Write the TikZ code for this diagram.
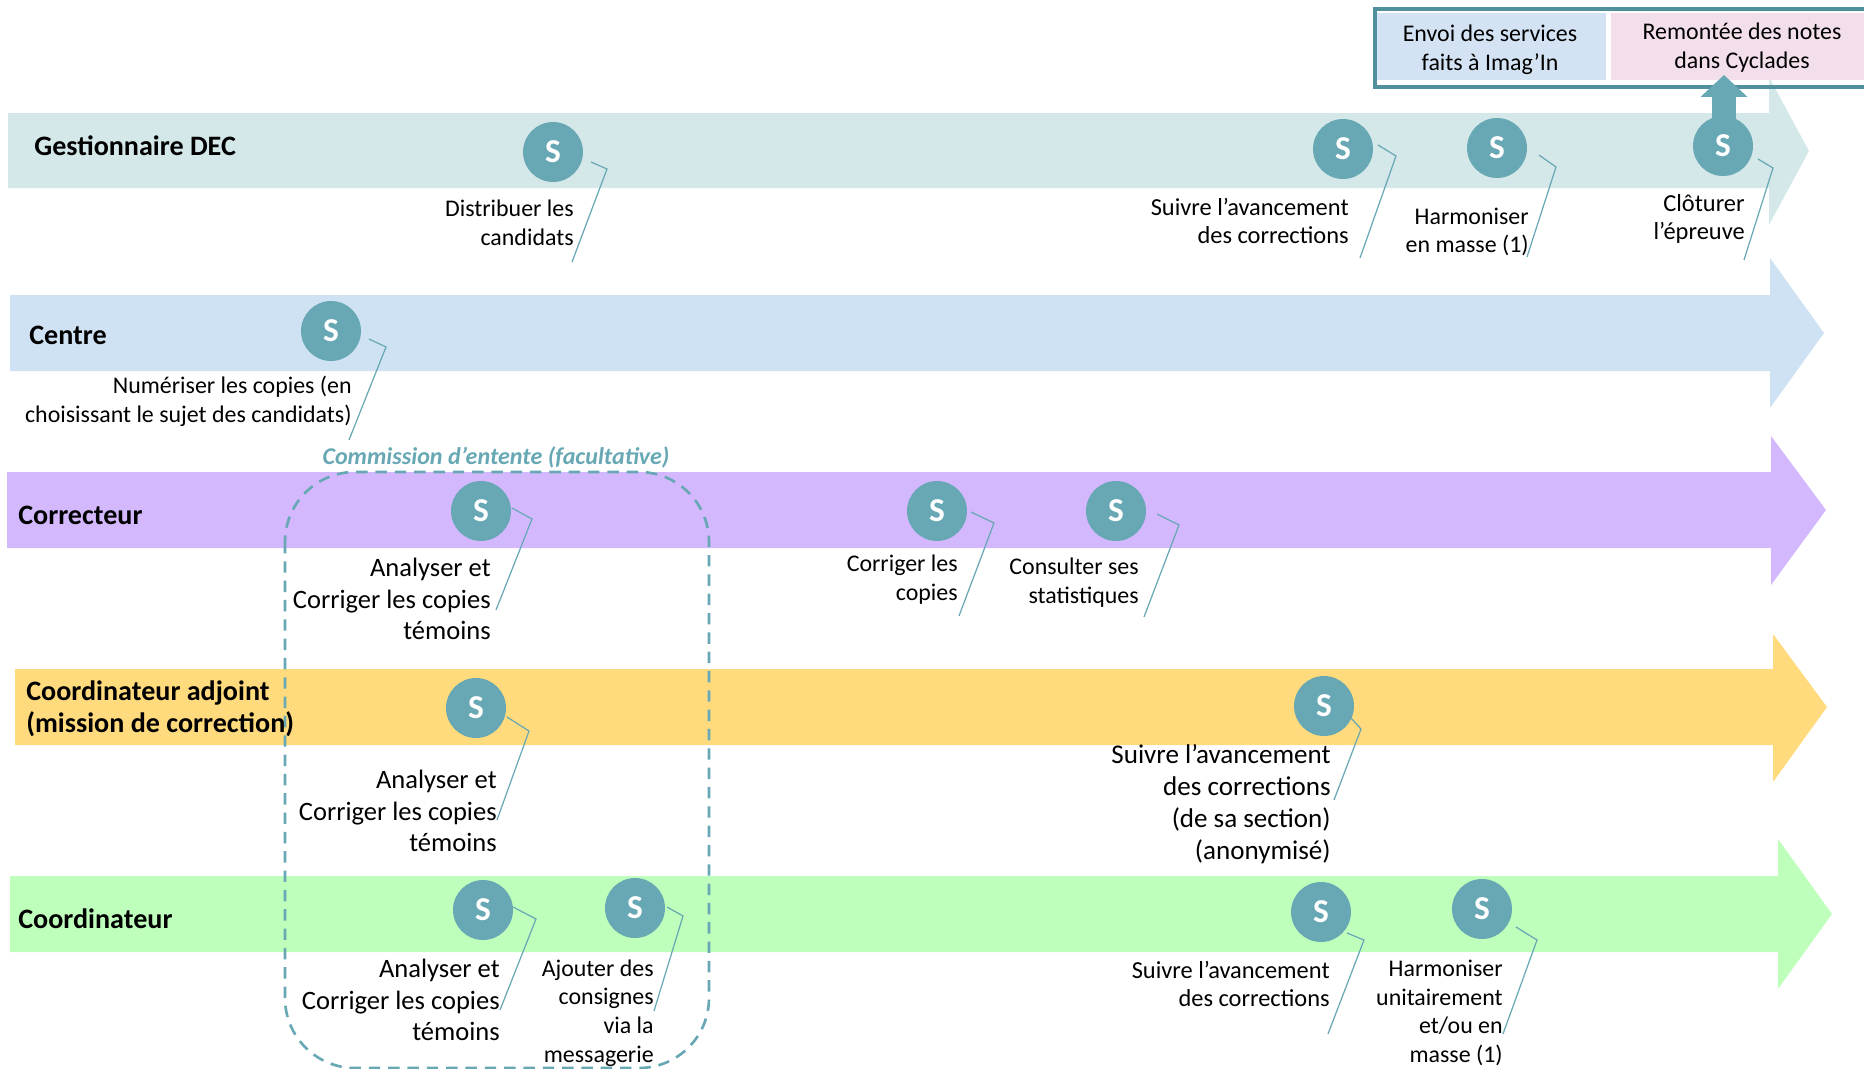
\documentclass[tikz,border=0pt]{standalone}
\usepackage{fontspec}
\setmainfont{Carlito}
\usetikzlibrary{arrows.meta}
\definecolor{gestcol}{HTML}{D5E8E9}
\definecolor{centrecol}{HTML}{CFE2F3}
\definecolor{corrcol}{HTML}{D3B8FE}
\definecolor{adjcol}{HTML}{FFDB7D}
\definecolor{coordcol}{HTML}{BFFFBC}
\definecolor{tealcol}{HTML}{67A8B4}
\definecolor{framecol}{HTML}{4F909C}
\definecolor{envoicol}{HTML}{D3E3F3}
\definecolor{remontecol}{HTML}{F3DFEC}
\begin{document}
\begin{tikzpicture}[x=0.02cm,y=-0.02cm,
  s node/.style={circle,fill=tealcol,minimum size=1.2cm,inner sep=0pt,text=white,font=\fontsize{19}{22}\selectfont\bfseries},
  role/.style={anchor=west,align=left,inner sep=0pt,font=\fontsize{16}{18.1}\selectfont\bfseries},
  small text/.style={anchor=east,align=right,inner sep=0pt,font=\fontsize{13.6}{16.4}\selectfont},
  mid text/.style={anchor=east,align=right,inner sep=0pt,font=\fontsize{13.9}{16.4}\selectfont},
  big text/.style={anchor=east,align=right,inner sep=0pt,font=\fontsize{15.1}{18.1}\selectfont},
  large text/.style={anchor=east,align=right,inner sep=0pt,font=\fontsize{15.4}{18.1}\selectfont},
  box text/.style={align=center,inner sep=0pt,font=\fontsize{13.6}{16.4}\selectfont},
  leader/.style={draw=tealcol,line width=0.7pt}]
  \useasboundingbox (0,0) rectangle (1864,1069);

  % bands
  \fill[gestcol] (8,113) -- (1769,113) -- (1769,77) -- (1809,151) -- (1769,225) -- (1769,188) -- (8,188) -- cycle;
  \fill[centrecol] (10,295) -- (1770,295) -- (1770,258) -- (1824,333) -- (1770,408) -- (1770,371) -- (10,371) -- cycle;
  \fill[corrcol] (7,472) -- (1771,472) -- (1771,436) -- (1826,510) -- (1771,585) -- (1771,548) -- (7,548) -- cycle;
  \fill[adjcol] (15,669) -- (1773,669) -- (1773,634) -- (1827,707) -- (1773,782) -- (1773,745) -- (15,745) -- cycle;
  \fill[coordcol] (10,876) -- (1778,876) -- (1778,839) -- (1832,914) -- (1778,989) -- (1778,952) -- (10,952) -- cycle;

  % top box
  \fill[envoicol] (1377,13) rectangle (1606,80);
  \fill[remontecol] (1611,13) rectangle (1864,80);
  \draw[framecol,line width=2.6pt] (1864,9) -- (1375,9) -- (1375,87) -- (1864,87);
  \node[box text] (envoi) at (1490,50) {Envoi des services\\faits à Imag’In};
  \node[box text] (remontee) at (1742,48) {Remontée des notes\\dans Cyclades};

  % commission
  \draw[tealcol,line width=1.5pt,dash pattern=on 6.5pt off 4.5pt,rounded corners=1.4cm] (285,472) rectangle (709,1068);
  \node[inner sep=0pt,text=tealcol,font=\fontsize{13.7}{16}\selectfont\bfseries\itshape] (commission) at (496,457) {Commission d’entente (facultative)};

  \node[role] (gest) at (34,146) {Gestionnaire DEC};
  \node[role] (centre) at (29,335) {Centre};
  \node[role] (correcteur) at (18,515) {Correcteur};
  \node[role] (adjoint) at (26,709) {Coordinateur adjoint\\(mission de correction)};
  \node[role] (coordinateur) at (18,919) {Coordinateur};

  \coordinate (upt) at (1724,75);
  \draw[tealcol,line width=13.6pt,-{Triangle[width=26pt,length=12.5pt]}] (1724,146) -- (upt);

  \node[s node] (g1) at (553,152) {S};
  \node[s node] (g2) at (1343,149) {S};
  \node[s node] (g3) at (1497,148) {S};
  \node[s node] (g4) at (1723,146) {S};
  \node[s node] (c1) at (331,331) {S};
  \node[s node] (r1) at (481,511) {S};
  \node[s node] (r2) at (937,511) {S};
  \node[s node] (r3) at (1116,511) {S};
  \node[s node] (a1) at (476,708) {S};
  \node[s node] (a2) at (1324,706) {S};
  \node[s node] (d1) at (483,910) {S};
  \node[s node] (d2) at (635,908) {S};
  \node[s node] (d3) at (1321,912) {S};
  \node[s node] (d4) at (1482,909) {S};

  \node[small text] (g1t) at (574,223) {Distribuer les\\candidats};
  \node[mid text] (g2t) at (1349,221) {Suivre l’avancement\\des corrections};
  \node[small text] (g3t) at (1529,232) {Harmoniser\\en masse (1)};
  \node[mid text] (g4t) at (1745,219) {Clôturer\\l’épreuve};
  \node[small text] (c1t) at (352,401) {Numériser les copies (en\\choisissant le sujet des candidats)};
  \node[big text] (r1t) at (491,599) {Analyser et\\Corriger les copies\\témoins};
  \node[small text] (r2t) at (958,580) {Corriger les\\copies};
  \node[small text] (r3t) at (1139,583) {Consulter ses\\statistiques};
  \node[big text] (a1t) at (497,811) {Analyser et\\Corriger les copies\\témoins};
  \node[large text] (a2t) at (1331,804) {Suivre l’avancement\\des corrections\\(de sa section)\\(anonymisé)};
  \node[big text] (d1t) at (500,1000) {Analyser et\\Corriger les copies\\témoins};
  \node[small text] (d2t) at (654,1013) {Ajouter des\\consignes\\via la\\messagerie};
  \node[mid text] (d3t) at (1330,984) {Suivre l’avancement\\des corrections};
  \node[small text] (d4t) at (1503,1013) {Harmoniser\\unitairement\\et/ou en\\masse (1)};

  % leaders
  \coordinate (g1a) at (591,162); \coordinate (g1b) at (607,169); \coordinate (g1c) at (572,262);
  \coordinate (g2a) at (1378,145); \coordinate (g2b) at (1396,156); \coordinate (g2c) at (1360,258);
  \coordinate (g3a) at (1539,155); \coordinate (g3b) at (1556,167); \coordinate (g3c) at (1527,257);
  \coordinate (g4a) at (1758,159); \coordinate (g4b) at (1773,168); \coordinate (g4c) at (1744,260);
  \coordinate (c1a) at (369,339); \coordinate (c1b) at (386,347); \coordinate (c1c) at (349,440);
  \coordinate (r1a) at (512,508); \coordinate (r1b) at (532,519); \coordinate (r1c) at (496,610);
  \coordinate (r2a) at (971,512); \coordinate (r2b) at (994,523); \coordinate (r2c) at (959,616);
  \coordinate (r3a) at (1157,514); \coordinate (r3b) at (1179,525); \coordinate (r3c) at (1144,617);
  \coordinate (a1a) at (507,717); \coordinate (a1b) at (529,731); \coordinate (a1c) at (497,820);
  \coordinate (a2a) at (1351,718); \coordinate (a2b) at (1361,729); \coordinate (a2c) at (1334,800);
  \coordinate (d1a) at (513,907); \coordinate (d1b) at (536,919); \coordinate (d1c) at (500,1010);
  \coordinate (d2a) at (667,907); \coordinate (d2b) at (683,916); \coordinate (d2c) at (654,1011);
  \coordinate (d3a) at (1347,933); \coordinate (d3b) at (1364,940); \coordinate (d3c) at (1328,1034);
  \coordinate (d4a) at (1516,927); \coordinate (d4b) at (1537,940); \coordinate (d4c) at (1503,1034);

  \draw[leader] (g1a) -- (g1b) -- (g1c);
  \draw[leader] (g2a) -- (g2b) -- (g2c);
  \draw[leader] (g3a) -- (g3b) -- (g3c);
  \draw[leader] (g4a) -- (g4b) -- (g4c);
  \draw[leader] (c1a) -- (c1b) -- (c1c);
  \draw[leader] (r1a) -- (r1b) -- (r1c);
  \draw[leader] (r2a) -- (r2b) -- (r2c);
  \draw[leader] (r3a) -- (r3b) -- (r3c);
  \draw[leader] (a1a) -- (a1b) -- (a1c);
  \draw[leader] (a2a) -- (a2b) -- (a2c);
  \draw[leader] (d1a) -- (d1b) -- (d1c);
  \draw[leader] (d2a) -- (d2b) -- (d2c);
  \draw[leader] (d3a) -- (d3b) -- (d3c);
  \draw[leader] (d4a) -- (d4b) -- (d4c);
\end{tikzpicture}
\end{document}
